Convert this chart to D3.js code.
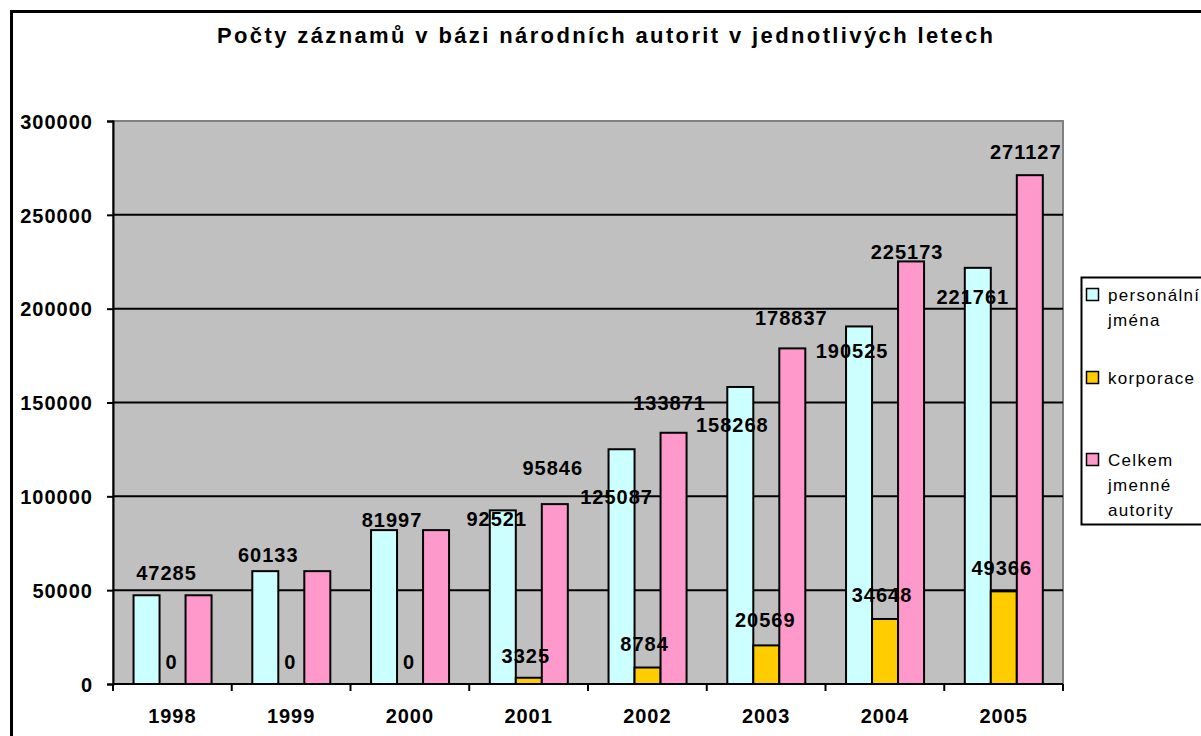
<!DOCTYPE html>
<html>
<head>
<meta charset="utf-8">
<script src="https://cdn.jsdelivr.net/npm/d3@7"></script>
<style>
  body { margin: 0; background: #fff; }
  svg { display: block; font-family: "Liberation Sans", Arial, sans-serif; }
</style>
</head>
<body>
<div id="chart"></div>
<script>
// data
const years = ["1998", "1999", "2000", "2001", "2002", "2003", "2004", "2005"];
const personalni = [47285, 60133, 81997, 92521, 125087, 158268, 190525, 221761];
const korporace = [0, 0, 0, 3325, 8784, 20569, 34648, 49366];
const celkem = [47285, 60133, 81997, 95846, 133871, 178837, 225173, 271127];
const yTicks = [0, 50000, 100000, 150000, 200000, 250000, 300000];

const seriesNames = ["personální jména", "korporace", "Celkem jmenné autority"];
const seriesValues = [personalni, korporace, celkem];
const colors = ["#CCFFFF", "#FFCC00", "#FF99CC"];

// label nudges (px) - labels in the original were dragged around by hand
const labelNudge = [
    [[20, 0], [3, 6], [8, 12], [-6, 31], [-5, 70], [-8, 60], [-7, 47], [-5, 51]],
    [[-1, 0], [-1, 0], [-1, 0], [-3, 0], [-3, -2], [-1, -3], [-3, -2], [-2, -1]],
    [null, null, null, [-2, -14], [-4, -8], [-1, -8], [-4, 13], [-4, -1]]
];

const W = 1201, H = 736;
const plot = { left: 113, right: 1063, top: 121, bottom: 684 };

const svg = d3.select("#chart").append("svg")
    .attr("width", W)
    .attr("height", H);

// outer frame
svg.append("rect")
    .attr("x", 11.5).attr("y", 11.5)
    .attr("width", W + 20).attr("height", H + 20)
    .attr("fill", "#fff")
    .attr("stroke", "#000")
    .attr("stroke-width", 3);

// title
svg.append("text")
    .attr("x", 605).attr("y", 43)
    .attr("text-anchor", "middle")
    .attr("textLength", 776)
    .attr("lengthAdjust", "spacing")
    .style("font-size", "22px")
    .style("font-weight", "bold")
    .text("Počty záznamů v bázi národních autorit v jednotlivých letech");

const x0 = d3.scaleBand()
    .domain(years)
    .range([plot.left, plot.right])
    .padding(0);

const x1 = d3.scaleBand()
    .domain(d3.range(3))
    .range([x0.bandwidth() * 0.173, x0.bandwidth() * 0.83]);

const y = d3.scaleLinear()
    .domain([0, 300000])
    .range([plot.bottom, plot.top]);

// plot area
svg.append("rect")
    .attr("x", plot.left).attr("y", plot.top)
    .attr("width", plot.right - plot.left)
    .attr("height", plot.bottom - plot.top)
    .attr("fill", "#C0C0C0")
    .attr("stroke", "#808080")
    .attr("stroke-width", 2);

// gridlines
svg.append("g")
    .selectAll("line")
    .data(yTicks.filter(d => d > 0 && d < 300000))
    .enter()
    .append("line")
    .attr("x1", plot.left).attr("x2", plot.right)
    .attr("y1", d => y(d)).attr("y2", d => y(d))
    .attr("stroke", "#000")
    .attr("stroke-width", 2);

// bars
const groups = svg.append("g")
    .selectAll("g")
    .data(years)
    .enter()
    .append("g")
    .attr("transform", d => `translate(${x0(d)},0)`);

groups.selectAll("rect")
    .data((d, i) => seriesValues.map((s, k) => ({ k, v: s[i] })))
    .enter()
    .filter(d => d.v > 0)
    .append("rect")
    .attr("x", d => x1(d.k))
    .attr("width", x1.bandwidth())
    .attr("y", d => y(d.v))
    .attr("height", d => y(0) - y(d.v))
    .attr("fill", d => colors[d.k])
    .attr("stroke", "#000")
    .attr("stroke-width", 2);

// Y axis
const yAxis = svg.append("g")
    .attr("transform", `translate(${plot.left},0)`)
    .call(d3.axisLeft(y).tickValues(yTicks).tickSize(6).tickPadding(14).tickFormat(d3.format("d")));
yAxis.select(".domain").attr("stroke", "#000").attr("stroke-width", 2);
yAxis.selectAll(".tick line").attr("stroke", "#000").attr("stroke-width", 2);
yAxis.selectAll("text")
    .attr("dy", "0.36em")
    .style("font-size", "20px")
    .style("font-weight", "bold")
    .style("letter-spacing", "1px")
    .attr("fill", "#000");

// X axis
const xTickPos = d3.scaleLinear().domain([0, years.length]).range([plot.left, plot.right]);
const xAxis = svg.append("g");
xAxis.append("line")
    .attr("x1", plot.left).attr("x2", plot.right)
    .attr("y1", plot.bottom).attr("y2", plot.bottom)
    .attr("stroke", "#000").attr("stroke-width", 2);
xAxis.selectAll("line.tk")
    .data(d3.range(years.length + 1))
    .enter()
    .append("line")
    .attr("class", "tk")
    .attr("x1", d => xTickPos(d)).attr("x2", d => xTickPos(d))
    .attr("y1", plot.bottom).attr("y2", plot.bottom + 7)
    .attr("stroke", "#000").attr("stroke-width", 2);
xAxis.selectAll("text")
    .data(years)
    .enter()
    .append("text")
    .attr("x", d => x0(d) + x0.bandwidth() / 2)
    .attr("y", 723)
    .attr("text-anchor", "middle")
    .style("font-size", "20px")
    .style("font-weight", "bold")
    .style("letter-spacing", "1px")
    .text(d => d);

// data labels
const labels = [];
seriesValues.forEach((s, k) => {
    s.forEach((v, i) => {
        const n = labelNudge[k][i];
        if (!n) return;
        labels.push({
            x: x0(years[i]) + x1(k) + x1.bandwidth() / 2 + n[0],
            y: y(v) - 22 + n[1],
            v
        });
    });
});
svg.append("g")
    .selectAll("text")
    .data(labels)
    .enter()
    .append("text")
    .attr("x", d => d.x)
    .attr("y", d => d.y + 7)
    .attr("text-anchor", "middle")
    .style("font-size", "20px")
    .style("font-weight", "bold")
    .style("letter-spacing", "1px")
    .text(d => d.v);

// legend
const legend = svg.append("g");
legend.append("rect")
    .attr("x", 1081.5).attr("y", 277.5)
    .attr("width", 140).attr("height", 247)
    .attr("fill", "#fff")
    .attr("stroke", "#000")
    .attr("stroke-width", 2);

const legendItems = [
    { lines: ["personální", "jména"], y: 295 },
    { lines: ["korporace"], y: 378 },
    { lines: ["Celkem", "jmenné", "autority"], y: 460 }
];
legendItems.forEach((it, k) => {
    legend.append("rect")
        .attr("x", 1086.5).attr("y", it.y - 6.5)
        .attr("width", 12).attr("height", 12)
        .attr("fill", colors[k])
        .attr("stroke", "#000")
        .attr("stroke-width", 1.5);
    it.lines.forEach((t, j) => {
        legend.append("text")
            .attr("x", 1108)
            .attr("y", it.y + 6 + j * 25)
            .style("font-size", "17px")
            .style("letter-spacing", "1.3px")
            .text(t);
    });
});
</script>
</body>
</html>
